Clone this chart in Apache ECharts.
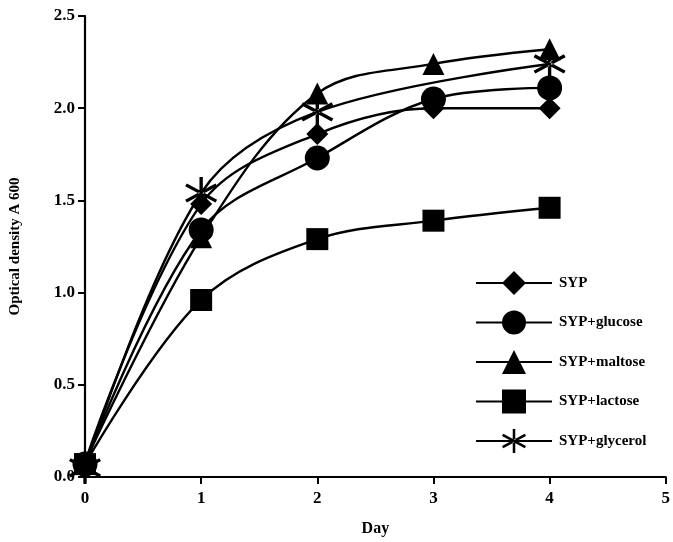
<!DOCTYPE html>
<html>
<head>
<meta charset="utf-8">
<script src="https://cdn.jsdelivr.net/npm/echarts@6/dist/echarts.min.js"></script>
<style>
  html, body { margin: 0; padding: 0; background: #fff; }
  #chart { width: 673px; height: 542px; }
</style>
</head>
<body>
<div id="chart"></div>
<script>
// days sampled
const days = [0, 1, 2, 3, 4]

// optical density readings per medium (glycerol has no day 3 reading)
const syp = [0.08, 1.48, 1.86, 2.0, 2.0]
const sypGlucose = [0.07, 1.34, 1.73, 2.05, 2.11]
const sypMaltose = [0.08, 1.30, 2.08, 2.24, 2.32]
const sypLactose = [0.07, 0.96, 1.29, 1.39, 1.46]
const sypGlycerol = [0.05, 1.54, 1.98, null, 2.24]

const seriesNames = ['SYP', 'SYP+glucose', 'SYP+maltose', 'SYP+lactose', 'SYP+glycerol']

const font = 'Liberation Serif'

// six-spoke asterisk, no horizontal arm
const star = 'path://M-0.1,-1L0.1,-1L0.1,1L-0.1,1Z' +
  'M-0.95,-0.42L-0.85,-0.6L0.95,0.42L0.85,0.6Z' +
  'M-0.95,0.42L-0.85,0.6L0.95,-0.42L0.85,-0.6Z'

const pair = arr => arr.map((v, i) => [days[i], v])

const mk = (name, data, symbol, size) => ({
  name,
  type: 'line',
  data: pair(data),
  smooth: 0.35,
  connectNulls: true,
  symbol,
  symbolSize: size,
  lineStyle: { color: '#000', width: 2.4 },
  itemStyle: { color: '#000' },
  z: 3
})

const chart = echarts.init(document.getElementById('chart'))

chart.setOption({
  animation: false,
  backgroundColor: '#fff',
  grid: { left: 79, right: 6, top: 16, bottom: 64 },
  legend: {
    data: seriesNames,
    orient: 'vertical',
    left: 470,
    top: 266,
    itemWidth: 76,
    itemHeight: 30,
    itemGap: 15.5,
    textStyle: { fontFamily: font, fontSize: 15, fontWeight: 'bold', color: '#000', padding: [0, 0, 0, 2] }
  },
  xAxis: {
    type: 'value',
    min: 0,
    max: 5,
    interval: 1,
    name: 'Day',
    nameLocation: 'middle',
    nameGap: 44,
    nameTextStyle: { fontFamily: font, fontSize: 16, fontWeight: 'bold', color: '#000' },
    axisLine: { lineStyle: { color: '#000', width: 2.2 } },
    axisTick: { length: 7, lineStyle: { color: '#000', width: 2 } },
    axisLabel: { fontFamily: font, fontSize: 17, fontWeight: 'bold', color: '#000', margin: 13 },
    splitLine: { show: false }
  },
  yAxis: {
    type: 'value',
    min: 0,
    max: 2.5,
    interval: 0.5,
    name: 'Optical density A 600',
    nameLocation: 'middle',
    nameGap: 62,
    nameTextStyle: { fontFamily: font, fontSize: 15, fontWeight: 'bold', color: '#000' },
    axisLine: { show: true, lineStyle: { color: '#000', width: 2.2 } },
    axisTick: { show: true, length: 7, lineStyle: { color: '#000', width: 2 } },
    axisLabel: {
      fontFamily: font, fontSize: 17, fontWeight: 'bold', color: '#000', margin: 10,
      formatter: v => v.toFixed(1)
    },
    splitLine: { show: false }
  },
  series: [
    mk(seriesNames[0], syp, 'diamond', 22),
    mk(seriesNames[1], sypGlucose, 'circle', 25),
    mk(seriesNames[2], sypMaltose, 'triangle', 22),
    mk(seriesNames[3], sypLactose, 'rect', 22),
    mk(seriesNames[4], sypGlycerol, star, 32)
  ]
})
</script>
</body>
</html>
